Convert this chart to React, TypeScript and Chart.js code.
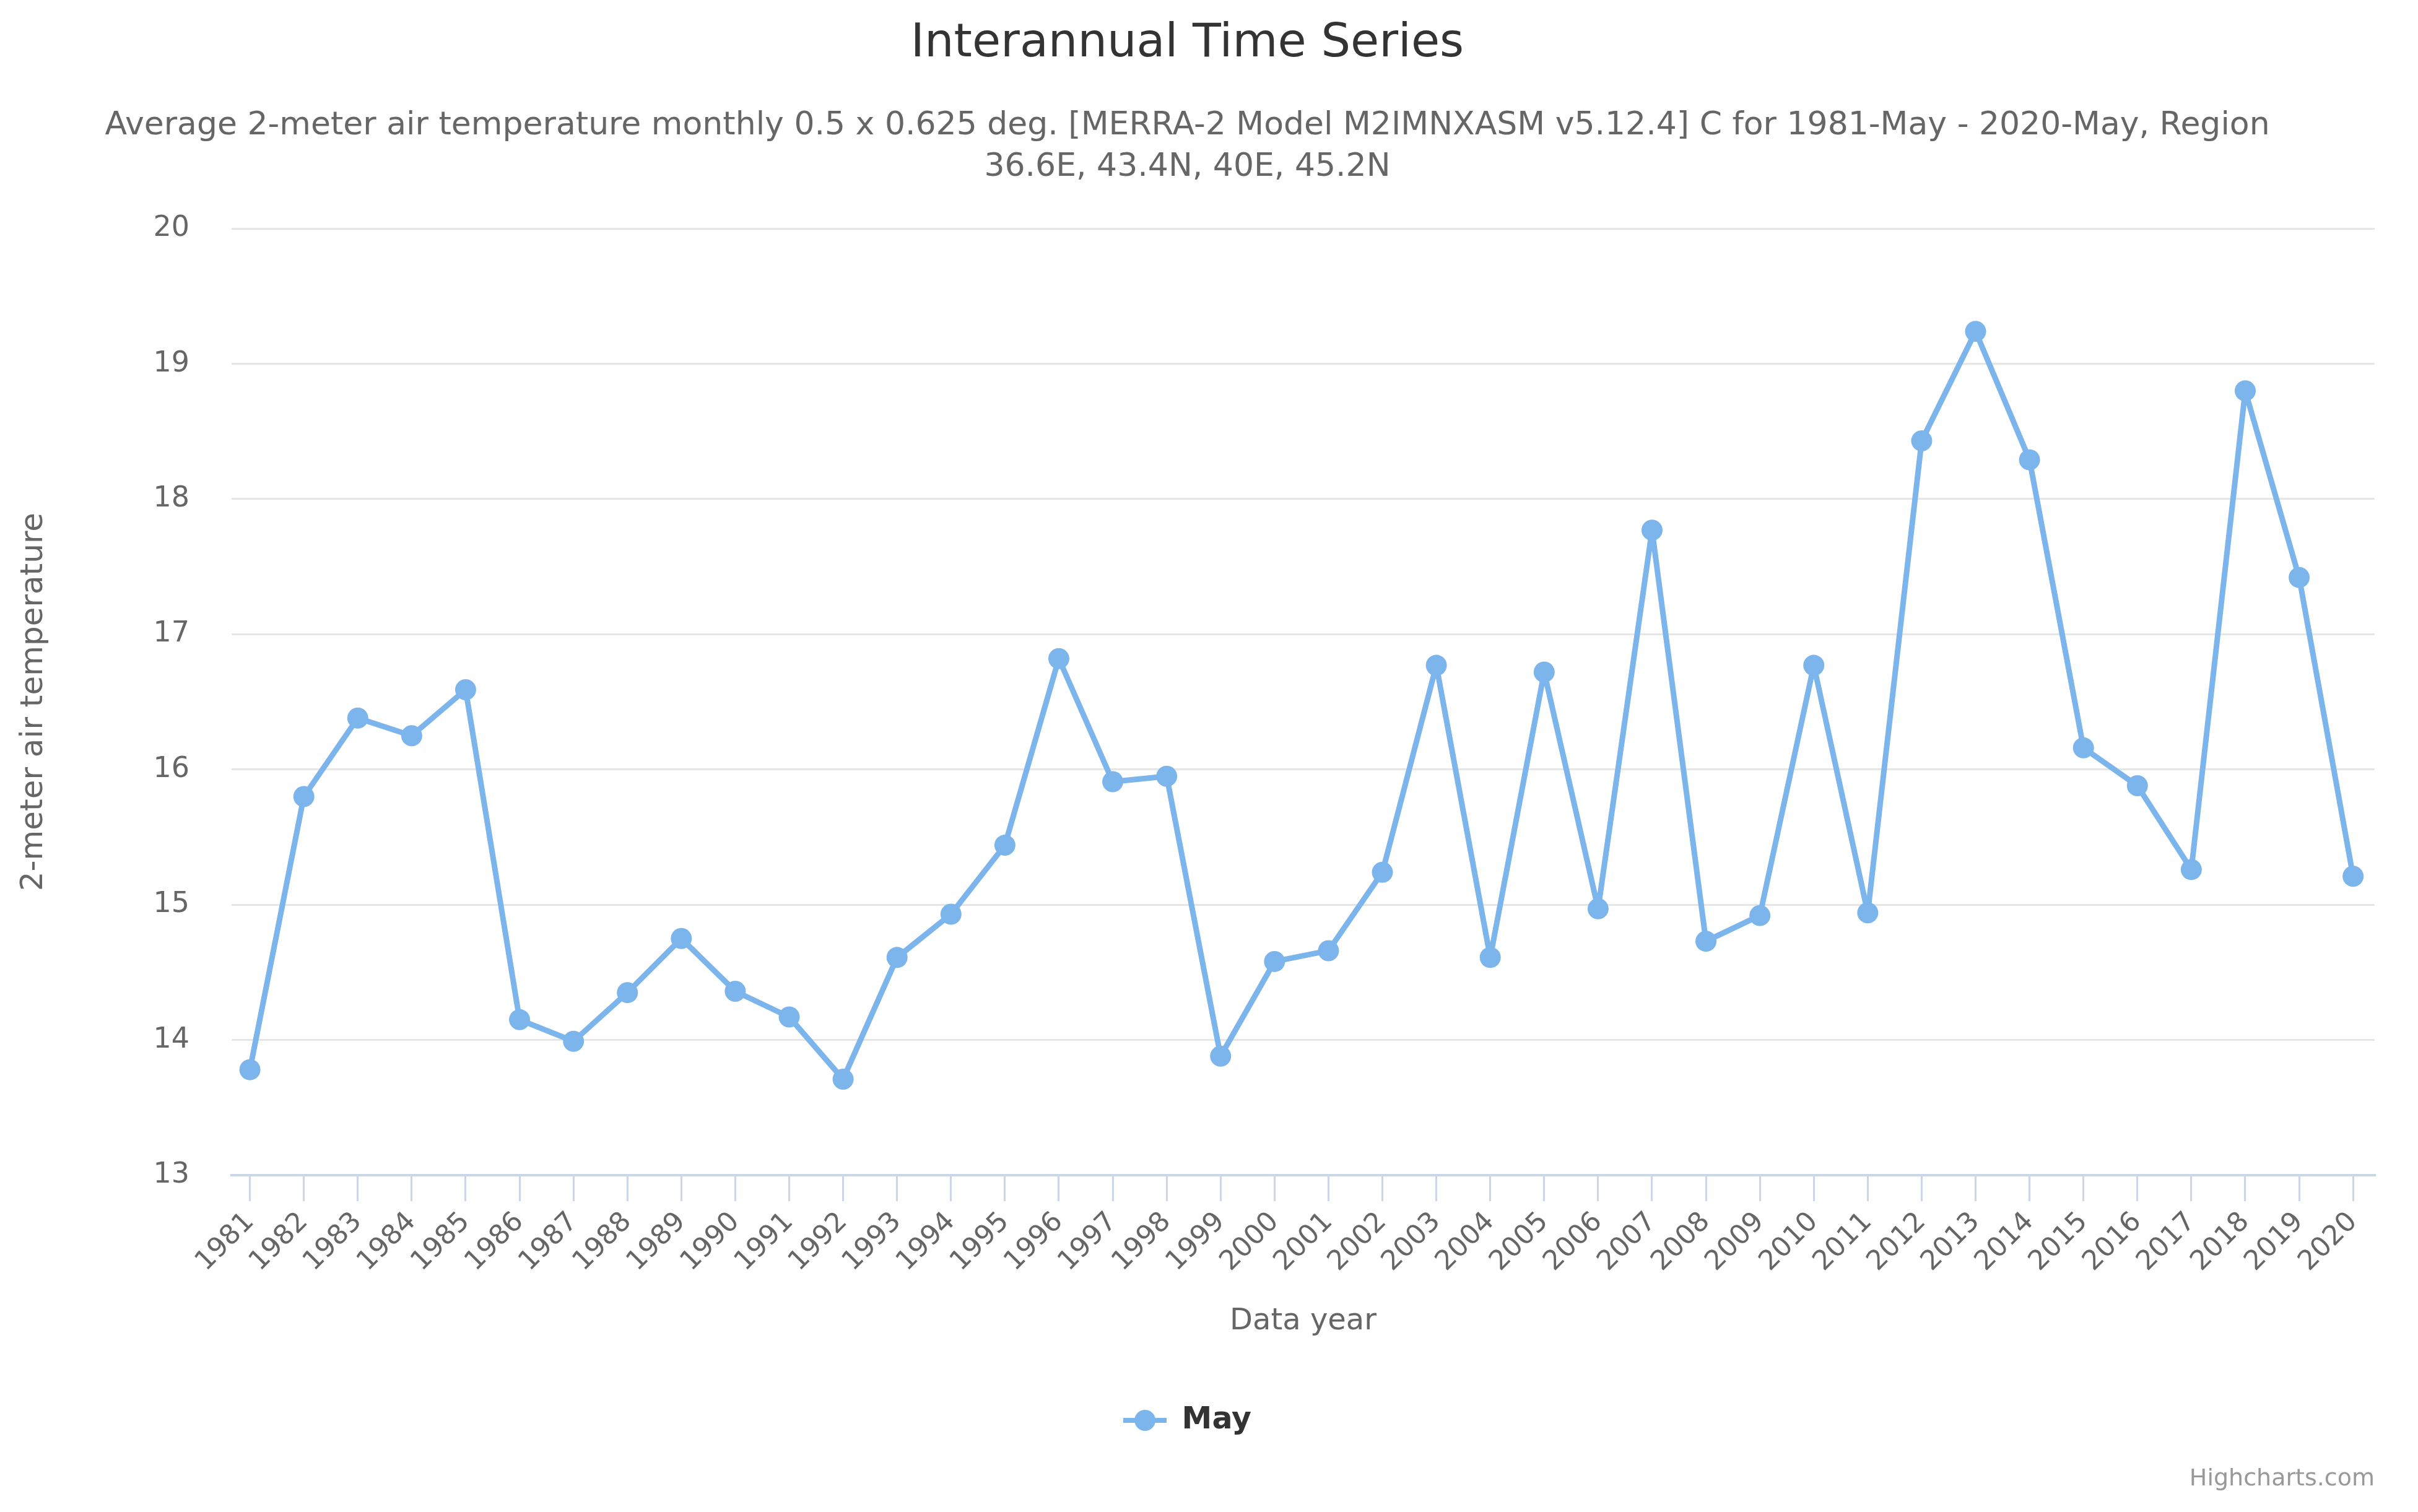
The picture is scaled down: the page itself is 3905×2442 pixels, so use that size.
import React, { useEffect, useRef } from "react";
import { Chart, registerables } from "chart.js";

Chart.register(...registerables);

const years: number[] = [
  1981, 1982, 1983, 1984, 1985, 1986, 1987, 1988, 1989, 1990,
  1991, 1992, 1993, 1994, 1995, 1996, 1997, 1998, 1999, 2000,
  2001, 2002, 2003, 2004, 2005, 2006, 2007, 2008, 2009, 2010,
  2011, 2012, 2013, 2014, 2015, 2016, 2017, 2018, 2019, 2020,
];

const mayTemps: number[] = [
  13.78, 15.8, 16.38, 16.25, 16.59, 14.15, 13.99, 14.35, 14.75, 14.36,
  14.17, 13.71, 14.61, 14.93, 15.44, 16.82, 15.91, 15.95, 13.88, 14.58,
  14.66, 15.24, 16.77, 14.61, 16.72, 14.97, 17.77, 14.73, 14.92, 16.77,
  14.94, 18.43, 19.24, 18.29, 16.16, 15.88, 15.26, 18.8, 17.42, 15.21,
];

const yMin = 13;
const yMax = 20;
const yStep = 1;

const TITLE = "Interannual Time Series";
const SUBTITLE: string[] = [
  "Average 2-meter air temperature monthly 0.5 x 0.625 deg. [MERRA-2 Model M2IMNXASM v5.12.4] C for 1981-May - 2020-May, Region",
  "36.6E, 43.4N, 40E, 45.2N",
];
const Y_TITLE = "2-meter air temperature";
const X_TITLE = "Data year";
const SERIES_NAME = "May";
const CREDITS = "Highcharts.com";

const COLOR = "#7cb5ec";
const FONT = '"DejaVu Sans", "Lucida Grande", Arial, sans-serif';

export default function App() {
  const canvasRef = useRef<HTMLCanvasElement | null>(null);

  useEffect(() => {
    document.body.style.margin = "0";
    const canvas = canvasRef.current;
    if (!canvas) return;

    // legend symbol: line with a circle marker (Highcharts style)
    const sym = document.createElement("canvas");
    sym.width = 70;
    sym.height = 38;
    const sctx = sym.getContext("2d")!;
    sctx.strokeStyle = COLOR;
    sctx.lineWidth = 8;
    sctx.beginPath();
    sctx.moveTo(0, 19);
    sctx.lineTo(70, 19);
    sctx.stroke();
    sctx.fillStyle = COLOR;
    sctx.beginPath();
    sctx.arc(35, 19, 17, 0, Math.PI * 2);
    sctx.fill();

    const creditsPlugin = {
      id: "credits",
      afterDraw(chart: any) {
        const ctx = chart.ctx;
        ctx.save();
        ctx.font = `38px ${FONT}`;
        ctx.fillStyle = "#999999";
        ctx.textAlign = "right";
        ctx.textBaseline = "middle";
        ctx.fillText(CREDITS, chart.chartArea.right, chart.height - 53);
        ctx.restore();
      },
    };

    const chart = new Chart(canvas, {
      type: "line",
      data: {
        datasets: [
          {
            label: SERIES_NAME,
            data: years.map((y, i) => ({ x: y, y: mayTemps[i] })),
            borderColor: COLOR,
            backgroundColor: COLOR,
            borderWidth: 9,
            borderJoinStyle: "round",
            borderCapStyle: "round",
            pointRadius: 17,
            pointBorderWidth: 0,
            pointBackgroundColor: COLOR,
            tension: 0,
          },
        ],
      },
      options: {
        responsive: false,
        animation: false,
        events: [],
        layout: { padding: { left: 0, right: 70, top: 0, bottom: 113.5 } },
        plugins: {
          title: {
            display: true,
            text: TITLE,
            color: "#333333",
            font: { family: FONT, size: 75, weight: "normal", lineHeight: 1.2 },
            padding: { top: 26.5, bottom: 0 },
          },
          subtitle: {
            display: true,
            text: SUBTITLE,
            color: "#666666",
            font: { family: FONT, size: 52, weight: "normal", lineHeight: 1.29 },
            padding: { top: 53.7, bottom: 64.8 },
          },
          legend: {
            display: true,
            position: "bottom",
            labels: {
              usePointStyle: true,
              pointStyle: sym as any,
              pointStyleWidth: 70,
              color: "#333333",
              font: { family: FONT, size: 49, weight: "bold" },
              padding: 106.5,
            },
          },
          tooltip: { enabled: false },
        },
        scales: {
          x: {
            type: "linear",
            min: years[0] - 0.34,
            max: years[years.length - 1] + 0.4,
            afterBuildTicks: (scale: any) => {
              scale.ticks = years.map((v) => ({ value: v }));
            },
            afterFit: (scale: any) => {
              scale.height = 265;
            },
            grid: {
              drawOnChartArea: false,
              drawTicks: true,
              tickLength: 42,
              tickColor: "#ccd6eb",
              lineWidth: 3,
            },
            border: { display: true, color: "#ccd6eb", width: 4 },
            ticks: {
              autoSkip: false,
              minRotation: 45,
              maxRotation: 45,
              padding: 8,
              color: "#666666",
              font: { family: FONT, size: 44 },
              callback: (v: any) => String(v),
            },
            title: {
              display: true,
              text: X_TITLE,
              color: "#666666",
              font: { family: FONT, size: 48 },
              padding: 0,
            },
          },
          y: {
            min: yMin,
            max: yMax,
            afterFit: (scale: any) => {
              scale.width = 374;
            },
            ticks: {
              stepSize: yStep,
              padding: 68,
              color: "#666666",
              font: { family: FONT, size: 46 },
            },
            grid: { color: "#e6e6e6", lineWidth: 3, drawTicks: false },
            border: { display: false },
            title: {
              display: true,
              text: Y_TITLE,
              color: "#666666",
              font: { family: FONT, size: 50 },
              padding: { top: 25, bottom: 0 },
            },
          },
        },
      },
      plugins: [creditsPlugin],
    } as any);

    return () => {
      chart.destroy();
    };
  }, []);

  return (
    <div style={{ width: 3905, height: 2442 }}>
      <canvas ref={canvasRef} width={3905} height={2442} style={{ display: "block" }} />
    </div>
  );
}
